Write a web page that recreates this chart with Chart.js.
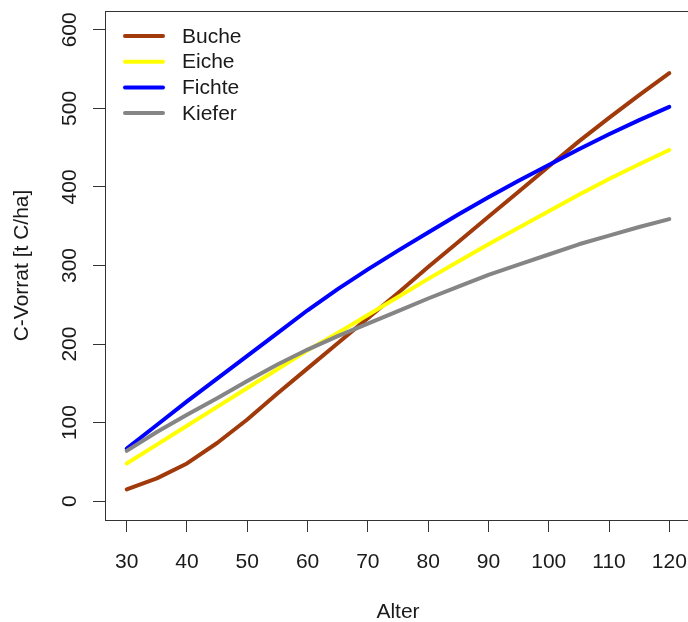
<!DOCTYPE html>
<html>
<head>
<meta charset="utf-8">
<script src="https://cdn.jsdelivr.net/npm/chart.js@4/dist/chart.umd.min.js"></script>
<style>
  html, body { margin: 0; padding: 0; background: #fff; overflow: hidden; }
  #wrap { position: relative; width: 700px; height: 622px; }
</style>
</head>
<body>
<div id="wrap"><canvas id="chart"></canvas></div>
<script>
// age of the stand (years)
const ages = [30, 35, 40, 45, 50, 55, 60, 65, 70, 75, 80, 85, 90, 95, 100, 105, 110, 115, 120];

// carbon stock per species, t C/ha
const buche = [15, 29, 48, 74, 104, 137, 169, 201, 233, 265, 298, 330, 362, 394, 426, 458, 488, 517, 545];
const eiche = [48, 72, 96, 120, 144, 168, 192, 214, 237, 260, 283, 305, 327, 348, 369, 390, 410, 429, 447];
const fichte = [67, 97, 127, 156, 185, 214, 243, 270, 295, 319, 342, 365, 387, 408, 428, 448, 467, 485, 502];
const kiefer = [64, 88, 110, 131, 153, 174, 193, 210, 226, 242, 258, 273, 288, 301, 314, 327, 338, 349, 359];

const speciesNames = ["Buche", "Eiche", "Fichte", "Kiefer"];
const speciesColors = ["#a13a0b", "#ffff00", "#0000ff", "#858585"];

const xTicks = [30, 40, 50, 60, 70, 80, 90, 100, 110, 120];
const yTicks = [0, 100, 200, 300, 400, 500, 600];

const FONT = '21px "Liberation Sans", Arial, sans-serif';
const INK = "#1a1a1a";
const AXIS = "#333";

const seriesValues = [buche, eiche, fichte, kiefer];

function toPoints(values) {
  return ages.map((a, i) => ({ x: a, y: values[i] }));
}

// R-style frame, tick labels, axis titles and legend
const rPlot = {
  id: "rPlot",
  afterDraw(chart) {
    const { ctx, chartArea: a, scales } = chart;
    const xs = scales.x, ys = scales.y;
    ctx.save();

    // box around plot region
    ctx.strokeStyle = AXIS;
    ctx.lineWidth = 1;
    ctx.strokeRect(Math.round(a.left) + 0.5, Math.round(a.top) + 0.5,
      Math.round(a.right - a.left), Math.round(a.bottom - a.top));

    ctx.fillStyle = INK;
    ctx.font = FONT;

    // x tick labels
    ctx.textAlign = "center";
    ctx.textBaseline = "middle";
    xTicks.forEach((v) => {
      ctx.fillText(String(v), xs.getPixelForValue(v), 562);
    });

    // y tick labels (rotated like R's las=0)
    yTicks.forEach((v) => {
      ctx.save();
      ctx.translate(70, ys.getPixelForValue(v));
      ctx.rotate(-Math.PI / 2);
      ctx.fillText(String(v), 0, 0);
      ctx.restore();
    });

    // axis titles
    ctx.fillText("Alter", (a.left + a.right) / 2, 612);
    ctx.save();
    ctx.translate(22, (a.top + a.bottom) / 2);
    ctx.rotate(-Math.PI / 2);
    ctx.fillText("C-Vorrat [t C/ha]", 0, 0);
    ctx.restore();

    // legend, top-left inside the box
    ctx.textAlign = "left";
    chart.data.datasets.forEach((ds, i) => {
      const yy = 36 + i * 25.7;
      ctx.strokeStyle = ds.borderColor;
      ctx.lineWidth = 4;
      ctx.lineCap = "round";
      ctx.beginPath();
      ctx.moveTo(125, yy);
      ctx.lineTo(163, yy);
      ctx.stroke();
      ctx.fillStyle = INK;
      ctx.fillText(ds.label, 182, yy + 1);
    });

    ctx.restore();
  },
};

const datasets = speciesNames.map((name, i) => ({
  label: name,
  data: toPoints(seriesValues[i]),
  borderColor: speciesColors[i],
  backgroundColor: speciesColors[i],
  borderWidth: 4,
  borderCapStyle: "round",
  borderJoinStyle: "round",
  pointRadius: 0,
  tension: 0,
  fill: false,
  order: speciesNames.length - i, // later species drawn on top
}));

new Chart(document.getElementById("chart"), {
  type: "line",
  data: { datasets },
  options: {
    responsive: true,
    maintainAspectRatio: false,
    animation: false,
    layout: { padding: { top: 11, right: 9, left: 0, bottom: 0 } },
    plugins: {
      legend: { display: false },
      tooltip: { enabled: false },
    },
    scales: {
      x: {
        type: "linear",
        min: 26.4,
        max: 123.6,
        afterBuildTicks: (s) => { s.ticks = xTicks.map((v) => ({ value: v })); },
        afterFit: (s) => { s.height = 102; },
        ticks: { display: false },
        border: { display: false },
        grid: {
          drawOnChartArea: false,
          drawTicks: true,
          tickLength: 12,
          tickColor: AXIS,
          tickWidth: 1,
        },
      },
      y: {
        type: "linear",
        min: -24,
        max: 624,
        afterBuildTicks: (s) => { s.ticks = yTicks.map((v) => ({ value: v })); },
        afterFit: (s) => { s.width = 105; },
        ticks: { display: false },
        border: { display: false },
        grid: {
          drawOnChartArea: false,
          drawTicks: true,
          tickLength: 12,
          tickColor: AXIS,
          tickWidth: 1,
        },
      },
    },
  },
  plugins: [rPlot],
});
</script>
</body>
</html>
